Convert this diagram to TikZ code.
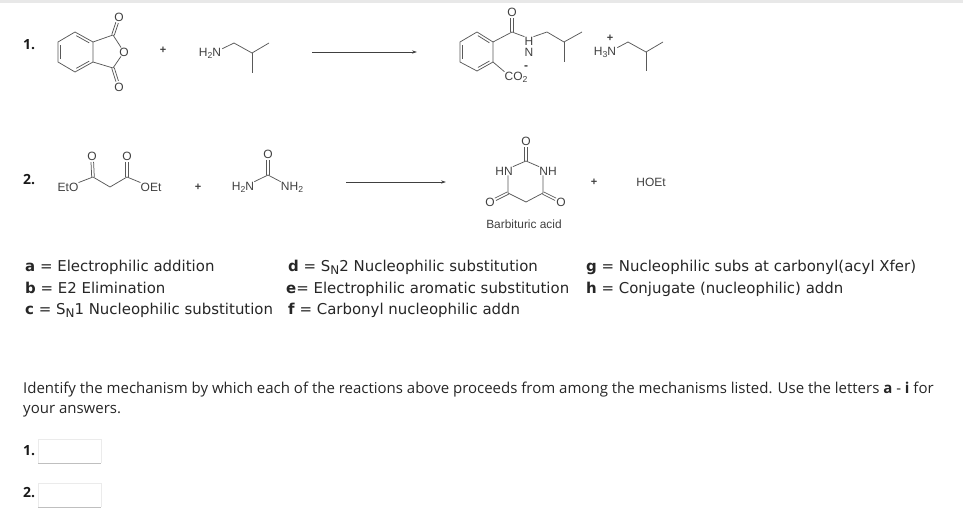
\documentclass[tikz,border=0pt]{standalone}
\usepackage{fontspec}
\setmainfont{Open Sans}
\newfontfamily\chemfont{Liberation Sans}
\newfontfamily\listfont{DejaVu Sans}
\usetikzlibrary{calc,arrows.meta}
\newcommand{\sbs}[1]{\raisebox{-.3ex}{\scalebox{.72}{#1}}}
\newcommand{\sbn}{\raisebox{-.45ex}{\scalebox{.8}{N}}}
\newcommand{\ringdbl}[2]{\draw[bond] ($(#1)!.14!(#2)!2.6pt!-90:(#2)$) -- ($(#2)!.14!(#1)!2.6pt!90:(#1)$);}
% carbonyl: two parallel strokes from carbon #1 to the oxygen label #2
\newcommand{\codbl}[2]{\draw[bond,shorten >=6pt] ($(#1)!1.3pt!90:(#2.center)$) -- ($(#2.center)!1.3pt!-90:(#1)$);
 \draw[bond,shorten >=6pt] ($(#1)!1.3pt!-90:(#2.center)$) -- ($(#2.center)!1.3pt!90:(#1)$);}
\tikzset{
 bond/.style={draw=black!65,line width=.75pt},
 atom/.style={font=\chemfont\fontsize{12}{14}\selectfont,text=black!75,inner sep=0pt},
 chemtext/.style={font=\chemfont\fontsize{11.9}{14}\selectfont,text=black!75,inner sep=0pt},
 plus/.style={font=\chemfont\bfseries\fontsize{11}{12}\selectfont,text=black!75,inner sep=0pt},
 rxnarrow/.style={draw=black!75,line width=.75pt,-{Stealth[length=5pt,width=3.2pt]}},
 body/.style={anchor=base west,inner sep=0pt,font=\fontsize{15}{18}\selectfont,text=black!85},
 listitem/.style={anchor=base west,inner sep=0pt,font=\listfont\fontsize{14.95}{18}\selectfont,text=black!85},
 num/.style={anchor=base west,inner sep=0pt,font=\bfseries\fontsize{14}{16}\selectfont,text=black!90},
}
\begin{document}
\begin{tikzpicture}[x=1pt,y=-1pt]
\useasboundingbox (0,0) rectangle (963,527);
\fill[black!9] (0,0) rectangle (963,3);
% ---- reaction 1: phthalic anhydride
\coordinate (a1) at (75,32); \coordinate (a2) at (93,42); \coordinate (a3) at (93,62);
\coordinate (a4) at (75,72); \coordinate (a5) at (58,62); \coordinate (a6) at (58,42);
\coordinate (a7) at (113,35); \coordinate (a8) at (113,68);
\node[atom] (aO) at (124,52) {O};
\node[atom] (aOt) at (119,17) {O};
\node[atom] (aOb) at (119,87) {O};
\draw[bond] (a1)--(a2)--(a3)--(a4)--(a5)--(a6)--cycle;
\ringdbl{a1}{a2}\ringdbl{a3}{a4}\ringdbl{a5}{a6}
\draw[bond] (a2)--(a7)--(aO)--(a8)--(a3);
\codbl{a7}{aOt}\codbl{a8}{aOb}
\node[plus] (p1) at (163,50) {+};
% isobutylamine
\node[atom] (bN) at (210,53) {H\sbs{2}N};
\coordinate (b1) at (234,43); \coordinate (b2) at (252,53); \coordinate (b3) at (269,43); \coordinate (b4) at (252,73);
\draw[bond] (bN.north east)++(1,1) -- (b1)--(b2)--(b3); \draw[bond] (b2)--(b4);
% arrow 1
\coordinate (r1s) at (312,52); \coordinate (r1e) at (417,52);
\draw[rxnarrow] (r1s)--(r1e);
% product
\coordinate (c1) at (477,32); \coordinate (c2) at (493,42); \coordinate (c3) at (493,62);
\coordinate (c4) at (477,71); \coordinate (c5) at (460,62); \coordinate (c6) at (460,42);
\coordinate (c7) at (512,32);
\node[atom] (cO) at (512,12) {O};
\node[atom] (cH) at (529,41) {H};
\node[atom] (cN) at (529,52) {N};
\coordinate (c8) at (547,32); \coordinate (c9) at (564,42); \coordinate (c10) at (582,32); \coordinate (c11) at (564,62);
\draw[bond] (c1)--(c2)--(c3)--(c4)--(c5)--(c6)--cycle;
\ringdbl{c1}{c2}\ringdbl{c3}{c4}\ringdbl{c5}{c6}
\draw[bond] (c2)--(c7)--(cH.north west); \codbl{c7}{cO}
\draw[bond] (cH.north east)--(c8)--(c9)--(c10); \draw[bond] (c9)--(c11);
\node[atom] (cCO) at (516,77) {CO\sbs{2}};
\node[atom] (cMinus) at (526,68) {\textbf{-}};
\draw[bond] (c3)--(cCO.north west);
% ammonium
\node[atom] (dN) at (605,52) {H\sbs{3}N};
\node[plus] (dP) at (610,38) {+};
\coordinate (d1) at (628,42); \coordinate (d2) at (646,52); \coordinate (d3) at (663,42); \coordinate (d4) at (646,71);
\draw[bond] (dN.north east)++(1,1)--(d1)--(d2)--(d3); \draw[bond] (d2)--(d4);
% ---- reaction 2: diethyl malonate
\node[atom] (eL) at (68,187) {EtO};
\node[atom] (eR) at (151,187) {OEt};
\node[atom] (eO1) at (92,156) {O};
\node[atom] (eO2) at (127,156) {O};
\coordinate (e1) at (93,177); \coordinate (e2) at (110,187); \coordinate (e3) at (127,177);
\draw[bond] (eL.north east)--(e1)--(e2)--(e3)--(eR.north west);
\codbl{e1}{eO1}\codbl{e3}{eO2}
\node[plus] (p2) at (198,187) {+};
% urea
\node[atom] (fL) at (243,187) {H\sbs{2}N};
\node[atom] (fR) at (292,187) {NH\sbs{2}};
\node[atom] (fO) at (268,154) {O};
\coordinate (f1) at (268,175);
\draw[bond] (fL.north east)--(f1)--(fR.north west);
\codbl{f1}{fO}
% arrow 2
\coordinate (r2s) at (346,182); \coordinate (r2e) at (446,182);
\draw[rxnarrow] (r2s)--(r2e);
% barbituric acid
\node[atom] (gO) at (526,141) {O};
\node[atom] (gL) at (504,171) {HN};
\node[atom] (gR) at (548,171) {NH};
\node[atom] (gOl) at (490,202) {O};
\node[atom] (gOr) at (561,202) {O};
\coordinate (g1) at (526,161); \coordinate (g2) at (508,193); \coordinate (g3) at (526,202); \coordinate (g4) at (543,193);
\draw[bond] (gL.north east)--(g1)--(gR.north west);
\draw[bond] (gL.south -| g2)--(g2)--(g3)--(g4)--(gR.south -| g4);
\codbl{g1}{gO}\codbl{g2}{gOl}\codbl{g4}{gOr}
\node[chemtext] (gName) at (524,224) {Barbituric acid};
\node[plus] (p3) at (594,182) {+};
\node[atom] (hoet) at (651,182) {HOEt};
% ---- labels
\node[num] (n1) at (23,49) {1.};
\node[num] (n2) at (23,184) {2.};
\node[listitem] (m1) at (25,271) {\textbf{a} = Electrophilic addition};
\node[listitem] (m2) at (25,293) {\textbf{b} = E2 Elimination};
\node[listitem] (m3) at (25,314) {\textbf{c} = S\sbn1 Nucleophilic substitution};
\node[listitem] (m4) at (288,271) {\textbf{d} = S\sbn2 Nucleophilic substitution};
\node[listitem] (m5) at (286,293) {\textbf{e}= Electrophilic aromatic substitution};
\node[listitem] (m6) at (288,314) {\textbf{f} = Carbonyl nucleophilic addn};
\node[listitem] (m7) at (586,271) {\textbf{g} = Nucleophilic subs at carbonyl(acyl Xfer)};
\node[listitem] (m8) at (586,293) {\textbf{h} = Conjugate (nucleophilic) addn};
\node[body] (q1) at (23,393) {Identify the mechanism by which each of the reactions above proceeds from among the mechanisms listed. Use the letters \textbf{a} - \textbf{i} for};
\node[body] (q2) at (23,413) {your answers.};
\node[num] (a1l) at (23,455) {1.};
\node[num] (a2l) at (23,497) {2.};
% answer boxes
\draw[black!8,line width=.6pt] (38,463)--(38,439)--(101,439)--(101,463);
\draw[black!25,line width=.9pt] (38,463.5)--(101,463.5);
\draw[black!8,line width=.6pt] (38,507)--(38,483)--(101,483)--(101,507);
\draw[black!25,line width=.9pt] (38,507.5)--(101,507.5);
\end{tikzpicture}
\end{document}
